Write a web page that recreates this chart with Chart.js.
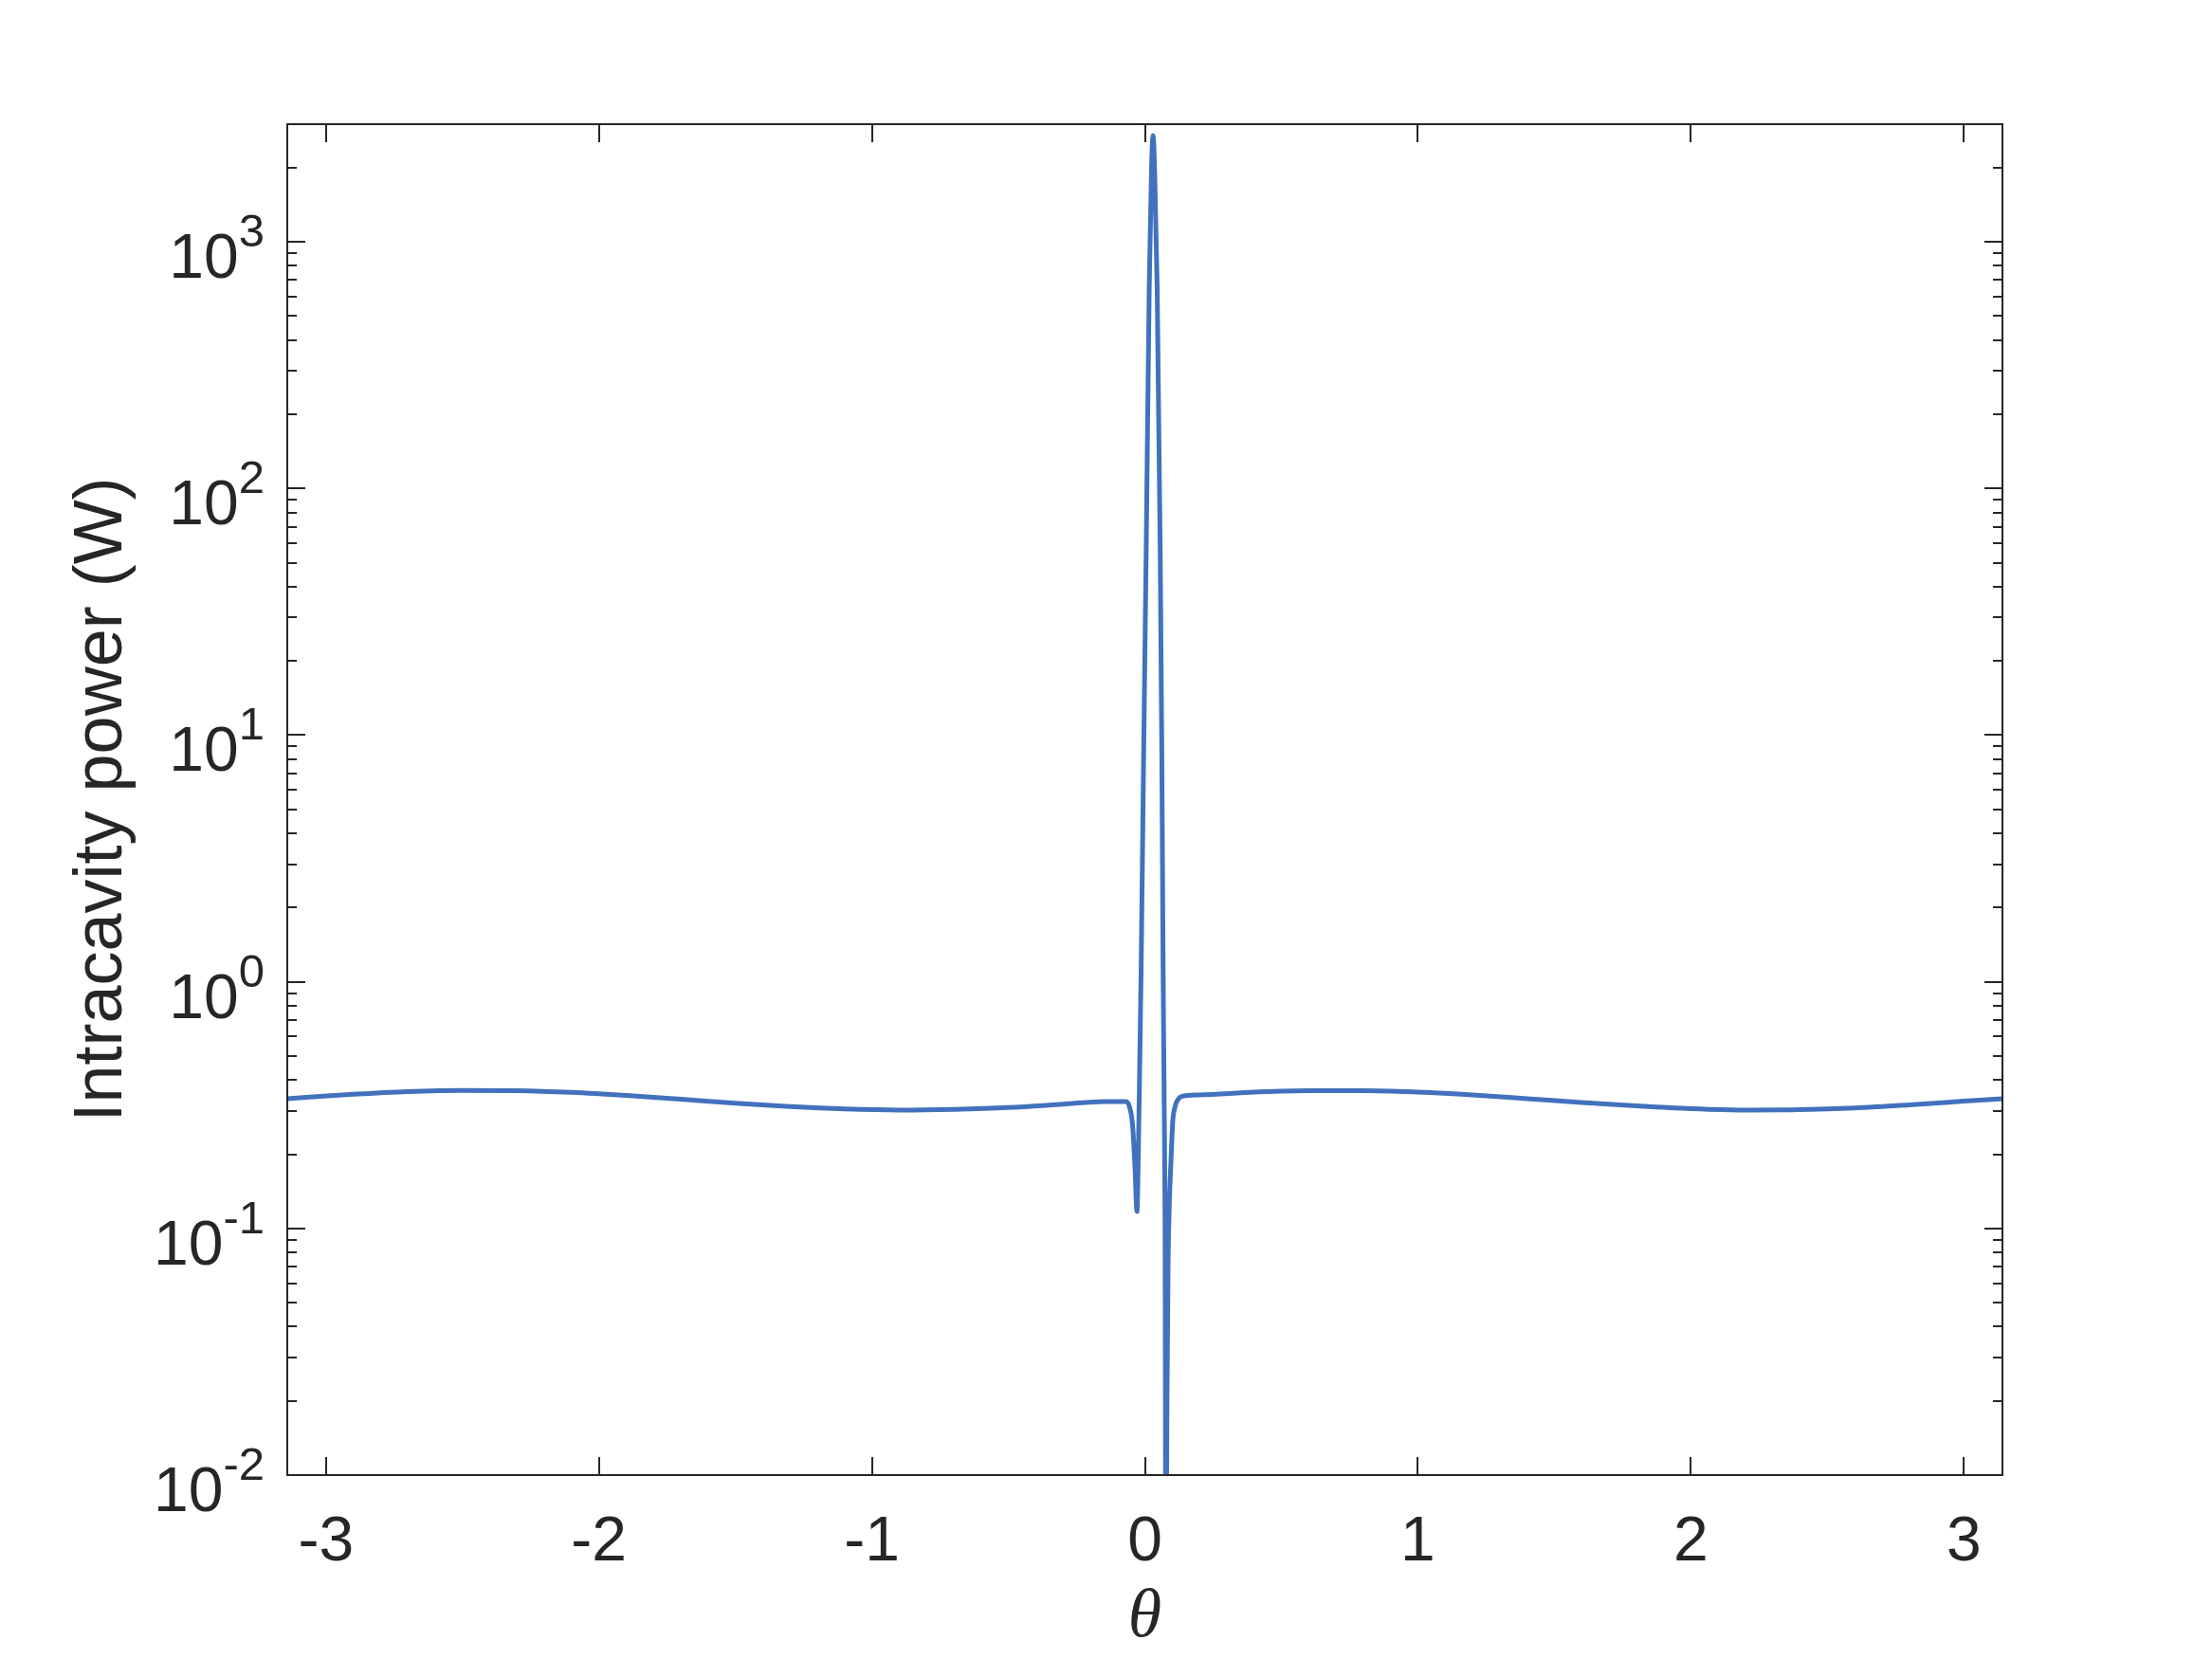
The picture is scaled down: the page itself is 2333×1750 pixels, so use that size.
<!DOCTYPE html>
<html>
<head>
<meta charset="utf-8">
<script src="https://cdn.jsdelivr.net/npm/chart.js@4.4.1/dist/chart.umd.min.js"></script>
<style>
  html, body { margin: 0; padding: 0; background: #fff; }
  #chart { display: block; }
</style>
</head>
<body>
<canvas id="chart" width="2333" height="1750"></canvas>
<script>
// theta (rad)
const theta = [
  -3.1416, -2.9, -2.7, -2.5, -2.3, -2.1, -1.9, -1.7, -1.5, -1.3, -1.1, -0.9,
  -0.7, -0.5, -0.3, -0.15, -0.069, -0.057, -0.045, -0.036, -0.029, -0.024,
  -0.019, -0.014, -0.005, 0.005, 0.016, 0.024, 0.03, 0.036, 0.045, 0.056,
  0.062, 0.067, 0.071, 0.074, 0.077, 0.081, 0.085, 0.09, 0.095, 0.102, 0.11,
  0.117, 0.134, 0.2, 0.4, 0.6, 0.8, 1.0, 1.2, 1.4, 1.6, 1.8, 2.0, 2.2, 2.4,
  2.6, 2.8, 3.0, 3.1416,
];

// intracavity power (W)
const power = [
  0.336, 0.35, 0.359, 0.363, 0.362, 0.356, 0.346, 0.334, 0.322, 0.312, 0.305,
  0.302, 0.304, 0.309, 0.319, 0.327, 0.327, 0.313, 0.262, 0.174, 0.117, 0.2,
  0.45, 1.06, 7.5, 59, 660, 1900, 2700, 1900, 660, 59, 8.7, 1.06, 0.3, 0.1,
  0.003, 0.02, 0.07, 0.13, 0.18, 0.27, 0.31, 0.327, 0.343, 0.348, 0.357, 0.362,
  0.362, 0.357, 0.348, 0.336, 0.324, 0.314, 0.306, 0.302, 0.303, 0.308, 0.317,
  0.328, 0.336,
];

const xTicks = [-3, -2, -1, 0, 1, 2, 3];
const yDecades = [0.01, 0.1, 1, 10, 100, 1000];
const yMinorSteps = [2, 3, 4, 5, 6, 7, 8, 9];
const yMin = 0.01;
const yMax = 3000;

const axisColor = "#262626";
const lineColor = "#4271bd";

function isMajor(v) {
  const l = Math.log10(v);
  return Math.abs(l - Math.round(l)) < 1e-9;
}

// box + inward ticks on all four sides, and 10^n labels
const axesBoxPlugin = {
  id: "axesBox",
  afterDraw: (chart) => {
    const { ctx, chartArea: a } = chart;
    const xs = chart.scales.x;
    const ys = chart.scales.y;
    const majorLen = 19;
    const minorLen = 10;

    ctx.save();
    ctx.strokeStyle = axisColor;
    ctx.lineWidth = 2;
    ctx.beginPath();
    xs.ticks.forEach((t) => {
      const x = Math.round(xs.getPixelForValue(t.value));
      ctx.moveTo(x, a.bottom);
      ctx.lineTo(x, a.bottom - majorLen);
      ctx.moveTo(x, a.top);
      ctx.lineTo(x, a.top + majorLen);
    });
    ys.ticks.forEach((t) => {
      const y = Math.round(ys.getPixelForValue(t.value));
      const len = isMajor(t.value) ? majorLen : minorLen;
      ctx.moveTo(a.left, y);
      ctx.lineTo(a.left + len, y);
      ctx.moveTo(a.right, y);
      ctx.lineTo(a.right - len, y);
    });
    ctx.stroke();
    ctx.strokeRect(a.left, a.top, a.right - a.left, a.bottom - a.top);

    // y labels: "10" with raised exponent
    const labelRight = 279;
    ctx.fillStyle = axisColor;
    ctx.textAlign = "right";
    ctx.textBaseline = "alphabetic";
    ys.ticks.forEach((t) => {
      if (!isMajor(t.value)) return;
      const y = ys.getPixelForValue(t.value);
      const exp = String(Math.round(Math.log10(t.value)));
      ctx.font = '49px "Liberation Sans"';
      ctx.fillText(exp, labelRight, y + 5);
      const w = ctx.measureText(exp).width;
      ctx.font = '66px "Liberation Sans"';
      ctx.fillText("10", labelRight - w, y + 38);
    });
    ctx.restore();
  },
};

const ctx = document.getElementById("chart").getContext("2d");

new Chart(ctx, {
  type: "line",
  data: {
    datasets: [
      {
        data: theta.map((t, i) => ({ x: t, y: power[i] })),
        borderColor: lineColor,
        borderWidth: 5,
        borderJoinStyle: "round",
        pointRadius: 0,
        cubicInterpolationMode: "monotone",
        fill: false,
      },
    ],
  },
  options: {
    responsive: false,
    animation: false,
    layout: { padding: { top: 131, right: 221, left: 0, bottom: 0 } },
    plugins: {
      legend: { display: false },
      tooltip: { enabled: false },
    },
    scales: {
      x: {
        type: "linear",
        min: -Math.PI,
        max: Math.PI,
        grid: { display: false, drawTicks: false },
        border: { display: false },
        afterBuildTicks: (scale) => {
          scale.ticks = xTicks.map((v) => ({ value: v }));
        },
        afterFit: (scale) => {
          scale.height = 194;
        },
        ticks: {
          padding: 32,
          color: axisColor,
          font: { family: "Liberation Sans", size: 66 },
          callback: (v) => String(v),
        },
        title: {
          display: true,
          text: "θ",
          color: axisColor,
          font: { family: "Liberation Serif", size: 72, style: "italic", lineHeight: 1.2 },
          padding: { top: 0, bottom: 0 },
        },
      },
      y: {
        type: "logarithmic",
        min: yMin,
        max: yMax,
        grid: { display: false, drawTicks: false },
        border: { display: false },
        afterBuildTicks: (scale) => {
          const ticks = [];
          yDecades.forEach((d) => {
            ticks.push({ value: d });
            yMinorSteps.forEach((m) => {
              if (d * m <= yMax) ticks.push({ value: d * m });
            });
          });
          scale.ticks = ticks;
        },
        afterFit: (scale) => {
          scale.width = 303;
        },
        ticks: { display: false },
        title: {
          display: true,
          text: "Intracavity power (W)",
          color: axisColor,
          font: { family: "Liberation Sans", size: 72, lineHeight: 1.2 },
          padding: { top: 65, bottom: 0 },
        },
      },
    },
  },
  plugins: [axesBoxPlugin],
});
</script>
</body>
</html>
